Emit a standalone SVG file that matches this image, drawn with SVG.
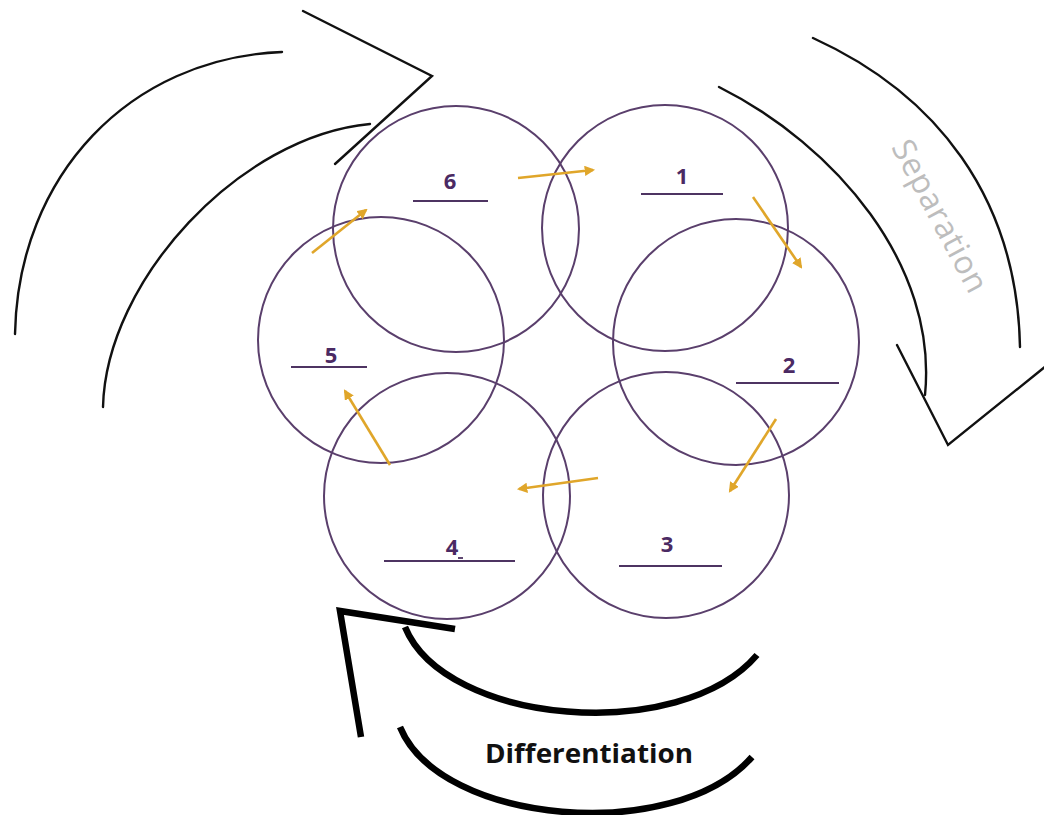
<svg xmlns="http://www.w3.org/2000/svg" width="1044" height="815" viewBox="0 0 1044 815">
  <style>
    .ring { fill: none; stroke: #5a3f6c; stroke-width: 2; }
    .rule { stroke: #4e3462; stroke-width: 1.8; }
    .num { font-family: "Open Sans", "Liberation Sans", sans-serif; font-weight: 700; font-size: 22px; fill: #4b2a63; text-anchor: middle; }
    .flow { stroke: #e0a62a; stroke-width: 2.6; fill: none; marker-end: url(#tip); }
    .thin { fill: none; stroke: #111; stroke-width: 2.4; stroke-linecap: round; }
    .thick { fill: none; stroke: #000; stroke-width: 6.5; }
  </style>
  <defs>
    <marker id="tip" viewBox="0 0 10 10" refX="8" refY="5" markerWidth="4" markerHeight="4" orient="auto" markerUnits="strokeWidth">
      <path d="M0,0 L10,5 L0,10 Z" fill="#e0a62a"/>
    </marker>
  </defs>
  <rect width="1044" height="815" fill="#fff"/>

  <!-- stage rings with labels -->
  <g id="stage-6">
    <circle class="ring" cx="456" cy="229" r="123"/>
    <text class="num" x="450" y="189">6</text>
    <line class="rule" x1="413" y1="201" x2="488" y2="201"/>
  </g>
  <g id="stage-1">
    <circle class="ring" cx="665" cy="228" r="123"/>
    <text class="num" x="682" y="184">1</text>
    <line class="rule" x1="641" y1="194" x2="723" y2="194"/>
  </g>
  <g id="stage-2">
    <circle class="ring" cx="736" cy="342" r="123"/>
    <text class="num" x="789" y="373">2</text>
    <line class="rule" x1="736" y1="383" x2="839" y2="383"/>
  </g>
  <g id="stage-3">
    <circle class="ring" cx="666" cy="495" r="123"/>
    <text class="num" x="667" y="552">3</text>
    <line class="rule" x1="619" y1="566" x2="722" y2="566"/>
  </g>
  <g id="stage-4">
    <circle class="ring" cx="447" cy="496" r="123"/>
    <text class="num" x="452" y="555">4</text>
    <line class="rule" x1="458" y1="558" x2="463" y2="558"/>
    <line class="rule" x1="384" y1="561" x2="515" y2="561"/>
  </g>
  <g id="stage-5">
    <circle class="ring" cx="381" cy="340" r="123"/>
    <text class="num" x="331" y="363">5</text>
    <line class="rule" x1="291" y1="367" x2="367" y2="367"/>
  </g>

  <!-- yellow step arrows between rings -->
  <g id="connectors">
    <line class="flow" x1="518" y1="178" x2="593" y2="170"/>
    <line class="flow" x1="753" y1="197" x2="801" y2="267"/>
    <line class="flow" x1="776" y1="419" x2="730" y2="491"/>
    <line class="flow" x1="598" y1="478" x2="519" y2="489"/>
    <line class="flow" x1="390" y1="465" x2="345" y2="391"/>
    <line class="flow" x1="312" y1="253" x2="366" y2="210"/>
  </g>

  <!-- top-left curved arrow -->
  <g id="arrow-top-left">
    <path class="thin" d="M15,334 C18,175 130,58 282,52"/>
    <path class="thin" d="M103,407 C106,280 240,136 370,124"/>
    <polyline class="thin" points="303,11 432,76 335,164" stroke-linejoin="miter" stroke-width="2.8"/>
  </g>

  <!-- right curved arrow: Separation -->
  <g id="arrow-separation">
    <path class="thin" d="M813,38 C936,94 1017,197 1020,347"/>
    <path class="thin" d="M719,87 C835,145 938,265 925,395"/>
    <polyline class="thin" points="897,345 948,445 1046,366" stroke-linejoin="miter" stroke-width="2.6"/>
    <text transform="translate(940,216) rotate(62)" x="0" y="11" text-anchor="middle" font-family="Open Sans, Liberation Sans, sans-serif" font-size="32" fill="#bdbdbd" textLength="168" lengthAdjust="spacing">Separation</text>
  </g>

  <!-- bottom curved arrow: Differentiation -->
  <g id="arrow-differentiation">
    <path class="thick" d="M405,627 C445,725 680,745 757,655"/>
    <path class="thick" d="M400,727 C440,825 675,845 752,757"/>
    <polyline class="thick" points="455,629 340,611 361,737" stroke-linejoin="miter" stroke-width="7"/>
    <text x="589" y="763" text-anchor="middle" font-family="Open Sans, Liberation Sans, sans-serif" font-weight="700" font-size="27" fill="#111" textLength="208" lengthAdjust="spacingAndGlyphs">Differentiation</text>
  </g>
</svg>
